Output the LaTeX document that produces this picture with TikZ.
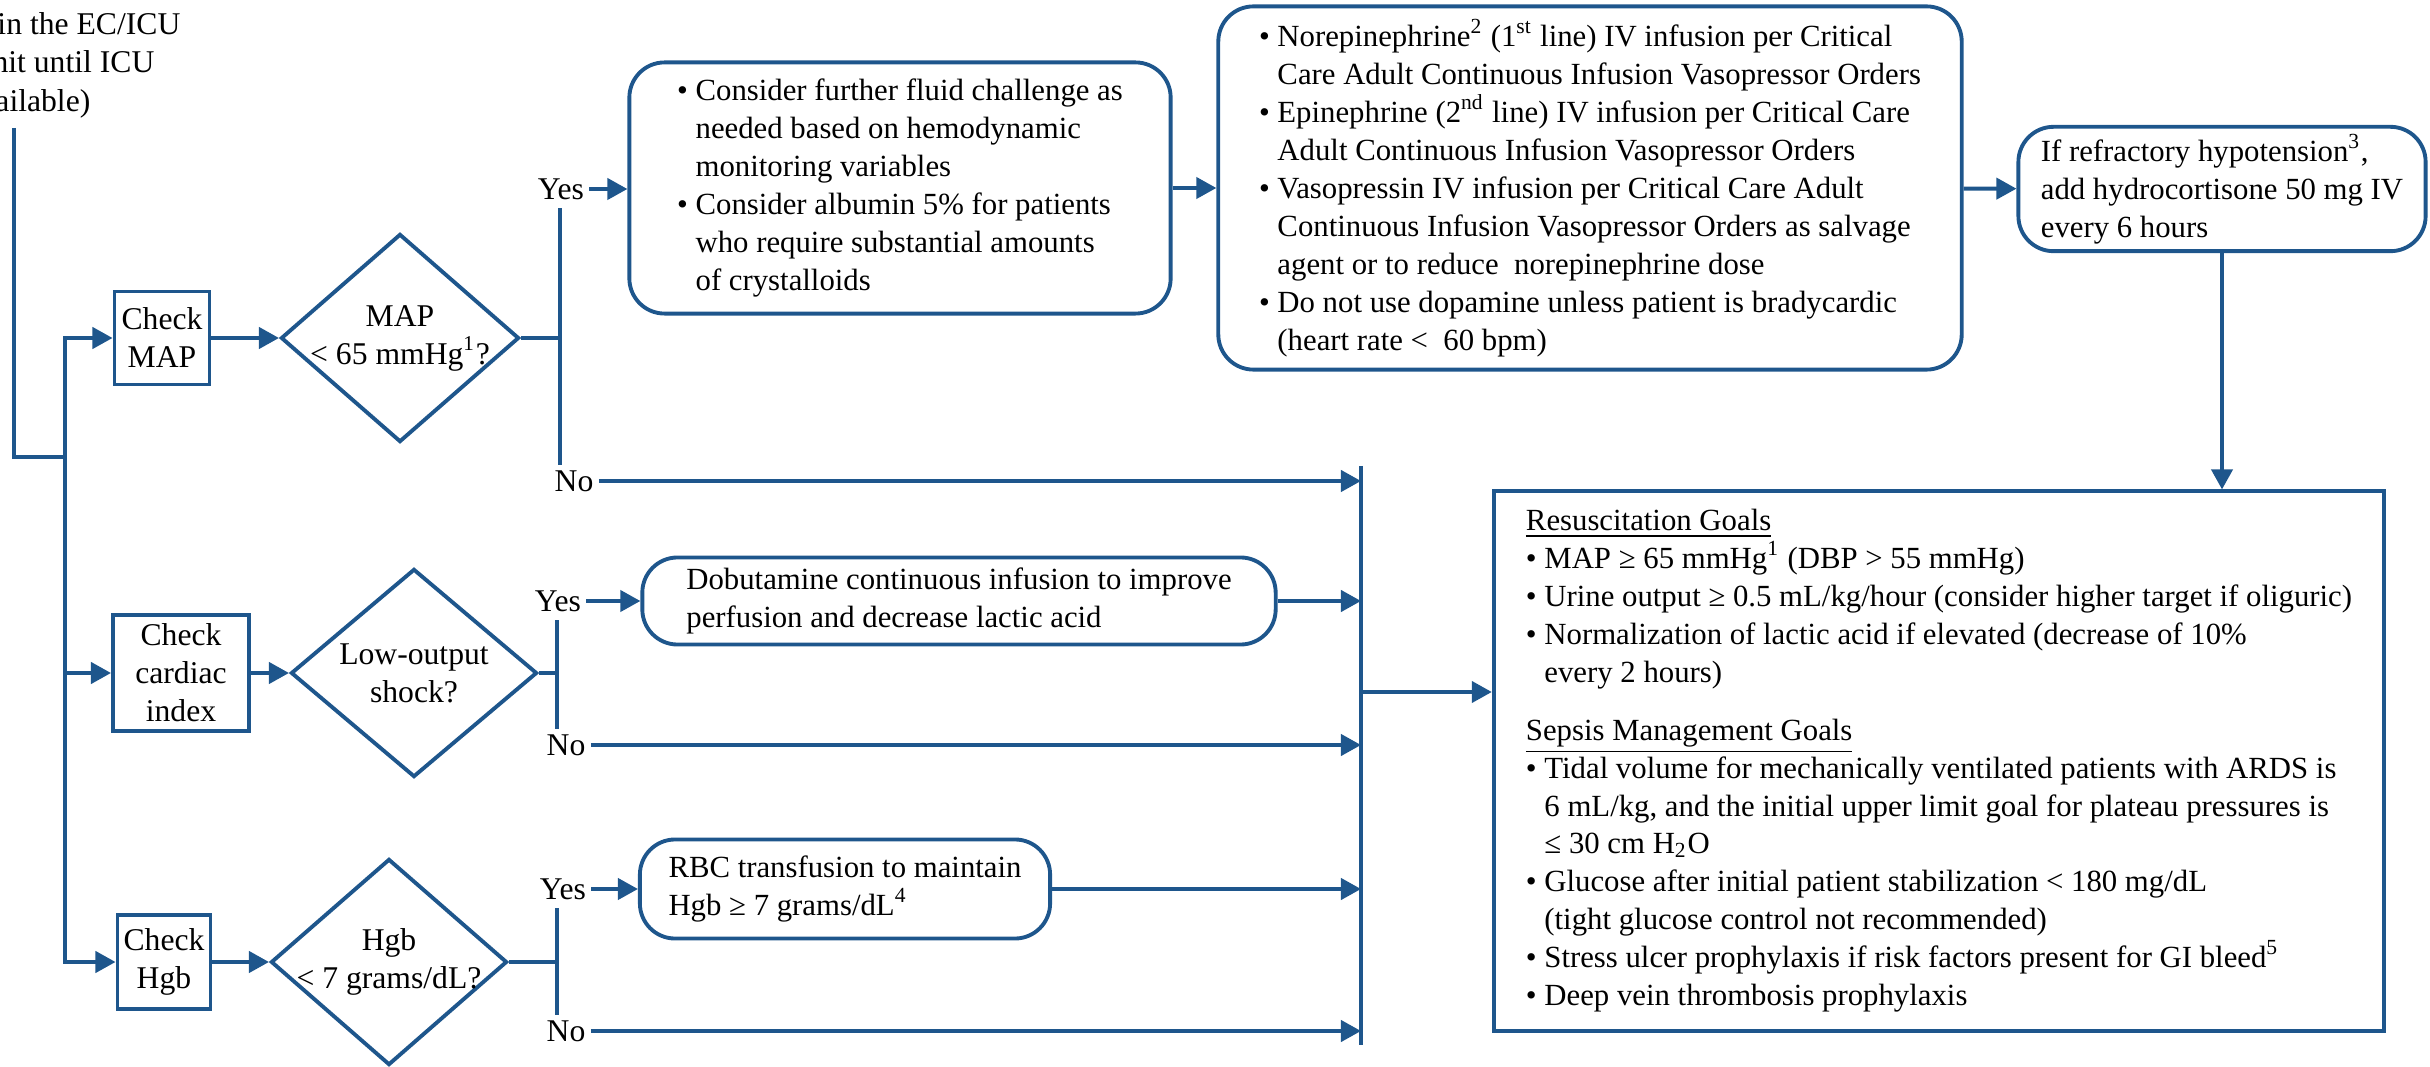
\documentclass[tikz,border=0pt]{standalone}
\usepackage{fontspec}
\setmainfont{Liberation Serif}
\usetikzlibrary{arrows.meta,shapes.geometric}
\definecolor{flowblue}{RGB}{30,86,140}
\newcommand{\bul}{\makebox[0.6em][l]{\textbullet}}
\newcommand{\ind}{\hspace*{0.6em}}

\begin{document}
\begin{tikzpicture}[x=0.01cm, y=-0.01cm, line width=1.1pt,
  every node/.style={font=\fontsize{9pt}{10.8pt}\selectfont},
  chk/.style={draw=flowblue, align=center, inner sep=1pt},
  dec/.style={draw=flowblue, shape=diamond, align=center, inner sep=-2pt},
  act/.style={draw=flowblue, rounded corners=10pt, align=left, inner sep=2pt,
    font=\fontsize{8.75pt}{10.8pt}\selectfont},
  goal/.style={draw=flowblue, align=left, inner sep=2pt,
    font=\fontsize{8.75pt}{10.8pt}\selectfont},
  lbl/.style={inner sep=1pt},
  line/.style={draw=flowblue},
  arr/.style={draw=flowblue, -{Triangle[length=5.7pt,width=6pt]}}]
\useasboundingbox (0,0) rectangle (2430,1067);

% --- entry text (cut at the left edge) ---
\node[anchor=base east] (st1) at (194,35) {in the EC/ICU};
\node[anchor=base east] (st2) at (168,73) {unit until ICU};
\node[anchor=base east] (st3) at (104,112) {vailable)};
\coordinate (entry) at (14,128);
\coordinate (join) at (65,457);

% --- checks ---
\node[chk, minimum width=0.95cm, minimum height=0.93cm] (chkmap) at (162,338) {Check\\MAP};
\node[chk, minimum width=1.36cm, minimum height=1.16cm] (chkci) at (181,673) {Check\\cardiac\\index};
\node[chk, minimum width=0.93cm, minimum height=0.94cm] (chkhgb) at (164,962) {Check\\Hgb};

% --- decisions ---
\node[dec, aspect=1.14, minimum width=2.38cm, minimum height=2.08cm] (dmap) at (400,338) {MAP\\< 65 mmHg\textsuperscript{1}?};
\node[dec, aspect=1.18, minimum width=2.46cm, minimum height=2.08cm] (dci) at (414,673) {Low-output\\shock?};
\node[dec, aspect=1.15, minimum width=2.36cm, minimum height=2.06cm] (dhgb) at (389,962) {Hgb\\< 7 grams/dL?};

% --- yes / no ---
\node[lbl] (yes1) at (561,189) {Yes};
\node[lbl] (no1) at (574,481) {No};
\node[lbl] (yes2) at (558,601) {Yes};
\node[lbl] (no2) at (566,745) {No};
\node[lbl] (yes3) at (563,889) {Yes};
\node[lbl] (no3) at (566,1031) {No};
\coordinate (b1) at (560,338);
\coordinate (b2) at (557,673);
\coordinate (b3) at (557,962);

% --- actions ---
\node[act, minimum width=5.41cm, minimum height=2.51cm] (fluid) at (900,188) {%
\bul Consider further fluid challenge as\\
\ind needed based on hemodynamic\\
\ind monitoring variables\\
\bul Consider albumin 5\% for patients\\
\ind who require substantial amounts\\
\ind of crystalloids};
\node[act, minimum width=7.43cm, minimum height=3.63cm] (pressor) at (1590,188) {%
\bul Norepinephrine\textsuperscript{2} (1\textsuperscript{st} line) IV infusion per Critical\\
\ind Care Adult Continuous Infusion Vasopressor Orders\\
\bul Epinephrine (2\textsuperscript{nd} line) IV infusion per Critical Care\\
\ind Adult Continuous Infusion Vasopressor Orders\\
\bul Vasopressin IV infusion per Critical Care Adult\\
\ind Continuous Infusion Vasopressor Orders as salvage\\
\ind agent or to reduce\ \ norepinephrine dose\\
\bul Do not use dopamine unless patient is bradycardic\\
\ind (heart rate <\ \ 60 bpm)};
\node[act, minimum width=4.07cm, minimum height=1.22cm] (hydro) at (2222,189) {%
If refractory hypotension\textsuperscript{3},\\
add hydrocortisone 50 mg IV\\
every 6 hours};
\node[act, minimum width=6.33cm, minimum height=0.87cm] (dobut) at (959,601) {%
Dobutamine continuous infusion to improve\\
perfusion and decrease lactic acid};
\node[act, minimum width=4.10cm, minimum height=0.99cm] (rbc) at (845,889) {%
RBC transfusion to maintain\\
Hgb ≥ 7 grams/dL\textsuperscript{4}};

% --- goals ---
\node[goal, minimum width=8.90cm, minimum height=5.39cm] (goals) at (1939,761) {%
\underline{Resuscitation Goals}\\
\bul MAP ≥ 65 mmHg\textsuperscript{1} (DBP > 55 mmHg)\\
\bul Urine output ≥ 0.5 mL/kg/hour (consider higher target if oliguric)\\
\bul Normalization of lactic acid if elevated (decrease of 10\%\\
\ind every 2 hours)\\[5.5pt]
\underline{Sepsis Management Goals}\\
\bul Tidal volume for mechanically ventilated patients with ARDS is\\
\ind 6 mL/kg, and the initial upper limit goal for plateau pressures is\\
\ind ≤ 30 cm H\textsubscript{2}O\\
\bul Glucose after initial patient stabilization < 180 mg/dL\\
\ind (tight glucose control not recommended)\\
\bul Stress ulcer prophylaxis if risk factors present for GI bleed\textsuperscript{5}\\
\bul Deep vein thrombosis prophylaxis};
\coordinate (mtop) at (1361,466);
\coordinate (mbot) at (1361,1045);
\coordinate (mout) at (1361,692);

% --- connectors ---
\draw[line] (entry) |- (join);
\draw[arr] (join) |- (chkmap);
\draw[arr] (join) |- (chkci);
\draw[arr] (join) |- (chkhgb);
\draw[arr] (chkmap) -- (dmap);
\draw[arr] (chkci) -- (dci);
\draw[arr] (chkhgb) -- (dhgb);
\draw[line] (dmap.east) -- (b1);
\draw[line] (dci.east) -- (b2);
\draw[line] (dhgb.east) -- (b3);
\draw[line] ([yshift=-1pt]yes1.south -| b1) -- (no1.north -| b1);
\draw[line] ([yshift=-1pt]yes2.south -| b2) -- (no2.north -| b2);
\draw[line] ([yshift=-1pt]yes3.south -| b3) -- (no3.north -| b3);
\draw[arr] (yes1.east) -- (yes1.east -| fluid.west);
\draw[arr] (yes2.east) -- (yes2.east -| dobut.west);
\draw[arr] (yes3.east) -- (yes3.east -| rbc.west);
\draw[arr] (no1.east) -- (no1.east -| mtop);
\draw[arr] (no2.east) -- (no2.east -| mtop);
\draw[arr] (no3.east) -- (no3.east -| mtop);
\draw[arr] (dobut.east) -- (dobut.east -| mtop);
\draw[arr] (rbc.east) -- (rbc.east -| mtop);
\draw[arr] (fluid) -- (pressor);
\draw[arr] (pressor) -- (hydro);
\draw[arr] (hydro.south) -- (hydro.south |- goals.north);
\draw[line] (mtop) -- (mbot);
\draw[arr] (mout) -- (mout -| goals.west);
\end{tikzpicture}
\end{document}
